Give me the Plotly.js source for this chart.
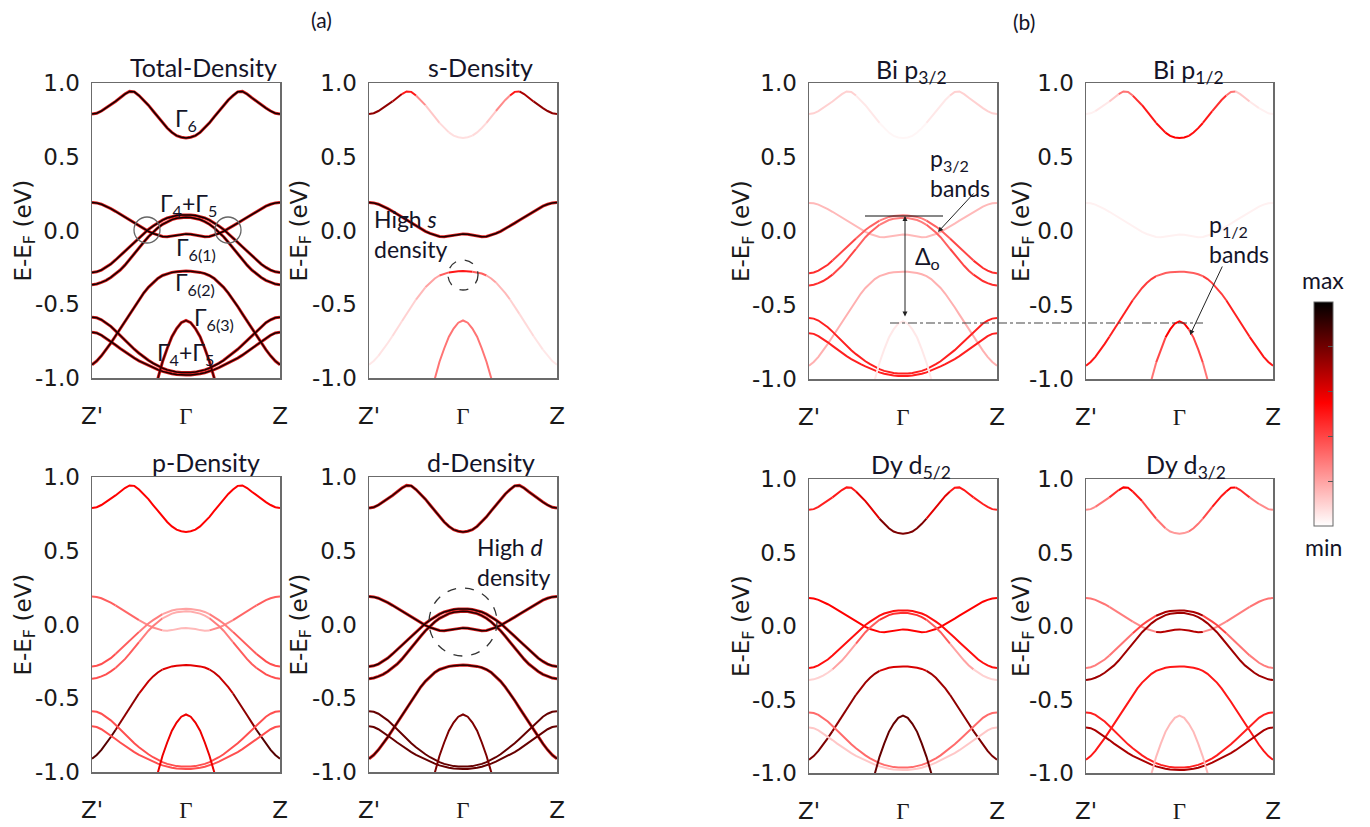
<!DOCTYPE html>
<html><head><meta charset="utf-8">
<script src="https://cdn.plot.ly/plotly-3.0.1.min.js"></script>
<style>html,body{margin:0;padding:0;background:#fff}#chart{width:1370px;height:827px}</style>
</head><body><div id="chart"></div>
<script>
// ---------- data ----------
const kGrid = [-1,-0.95,-0.9,-0.85,-0.8,-0.75,-0.7,-0.65,-0.6,-0.55,-0.5,-0.45,-0.4,-0.35,-0.3,-0.25,-0.2,-0.15,-0.1,-0.05,0,
  0.05,0.1,0.15,0.2,0.25,0.3,0.35,0.4,0.45,0.5,0.55,0.6,0.65,0.7,0.75,0.8,0.85,0.9,0.95,1];
const kTicks = [-1, 0, 1];
const kLabels = ["Z'", '<span style="font-family:Liberation Serif">Γ</span>', 'Z'];
const eTicks = [-1, -0.5, 0, 0.5, 1];
const eLabels = ['-1.0', '-0.5', '0.0', '0.5', '1.0'];

// band energies (eV) along Z' - Γ - Z
const bandA  = [0.79,0.795,0.81,0.83,0.85,0.875,0.9,0.925,0.943,0.94,0.915,0.885,0.85,0.81,0.77,0.73,0.695,0.665,0.643,0.632,0.628,0.632,0.643,0.665,0.695,0.73,0.77,0.81,0.85,0.885,0.915,0.94,0.943,0.925,0.9,0.875,0.85,0.83,0.81,0.795,0.79];
const bandC1 = [0.19,0.187,0.178,0.165,0.148,0.13,0.11,0.09,0.07,0.05,0.03,0.011,-0.006,-0.02,-0.032,-0.04,-0.042,-0.038,-0.031,-0.025,-0.023,-0.025,-0.031,-0.038,-0.042,-0.04,-0.032,-0.02,-0.006,0.011,0.03,0.05,0.07,0.09,0.11,0.13,0.148,0.165,0.178,0.187,0.19];
const bandD1 = [-0.285,-0.28,-0.268,-0.25,-0.228,-0.2,-0.17,-0.14,-0.11,-0.08,-0.05,-0.02,0.007,0.03,0.052,0.07,0.085,0.095,0.102,0.105,0.106,0.105,0.102,0.095,0.085,0.07,0.052,0.03,0.007,-0.02,-0.05,-0.08,-0.11,-0.14,-0.17,-0.2,-0.228,-0.25,-0.268,-0.28,-0.285];
const bandD2 = [-0.368,-0.363,-0.352,-0.338,-0.318,-0.295,-0.268,-0.235,-0.198,-0.16,-0.12,-0.08,-0.042,-0.01,0.018,0.042,0.06,0.074,0.083,0.088,0.09,0.088,0.083,0.074,0.06,0.042,0.018,-0.01,-0.042,-0.08,-0.12,-0.16,-0.198,-0.235,-0.268,-0.295,-0.318,-0.338,-0.352,-0.363,-0.368];
const bandE  = [-0.91,-0.885,-0.85,-0.808,-0.763,-0.715,-0.665,-0.615,-0.565,-0.515,-0.468,-0.424,-0.385,-0.352,-0.325,-0.305,-0.292,-0.284,-0.279,-0.276,-0.275,-0.276,-0.279,-0.284,-0.292,-0.305,-0.325,-0.352,-0.385,-0.424,-0.468,-0.515,-0.565,-0.615,-0.665,-0.715,-0.763,-0.808,-0.85,-0.885,-0.91];
const bandF1 = [-0.588,-0.592,-0.605,-0.625,-0.65,-0.68,-0.712,-0.745,-0.776,-0.805,-0.832,-0.857,-0.88,-0.9,-0.918,-0.933,-0.945,-0.954,-0.96,-0.963,-0.964,-0.963,-0.96,-0.954,-0.945,-0.933,-0.918,-0.9,-0.88,-0.857,-0.832,-0.805,-0.776,-0.745,-0.712,-0.68,-0.65,-0.625,-0.605,-0.592,-0.588];
const bandF2 = [-0.69,-0.695,-0.71,-0.73,-0.752,-0.776,-0.8,-0.823,-0.845,-0.865,-0.884,-0.9,-0.915,-0.93,-0.943,-0.955,-0.964,-0.971,-0.976,-0.979,-0.98,-0.979,-0.976,-0.971,-0.964,-0.955,-0.943,-0.93,-0.915,-0.9,-0.884,-0.865,-0.845,-0.823,-0.8,-0.776,-0.752,-0.73,-0.71,-0.695,-0.69];
const kG     = [-0.35,-0.3,-0.25,-0.2,-0.15,-0.1,-0.05,0,0.05,0.1,0.15,0.2,0.25,0.3,0.35];
const bandG  = [-1.12,-1.0,-0.89,-0.8,-0.72,-0.665,-0.625,-0.61,-0.625,-0.665,-0.72,-0.8,-0.89,-1.0,-1.12];

// projected weights (0 = min, 1 = max), band order: A, C1, D1, D2, E, F1, F2, G
// a number = constant along k; an array = equal-width k regions from Z' to Z
const wTotal = [0.97, 0.97, 0.97, 0.97, 0.94, 0.95, 0.95, 0.88];
const wS = [[0.75,0.75,0.7,0.5,0.25,0.12,0.08,0.07,0.07,0.08,0.12,0.25,0.5,0.7,0.75,0.75],
  0.95, 0, 0,
  [0.05,0.06,0.08,0.1,0.15,0.2,0.35,0.5,0.5,0.35,0.2,0.15,0.1,0.08,0.06,0.05],
  0, 0, 0.3];
const wP = [0.55, [0.35,0.33,0.25,0.15,0.15,0.25,0.33,0.35], [0.38,0.35,0.28,0.2,0.2,0.28,0.35,0.38],
  [0.38,0.35,0.28,0.18,0.18,0.28,0.35,0.38], [0.85,0.75,0.65,0.6,0.6,0.65,0.75,0.85], 0.38, 0.38, 0.58];
const wD = [0.93, 0.95, 0.95, 0.93, 0.92, 0.82, 0.82, 0.78];
const wBi32 = [[0.1,0.1,0.05,0.02,0.02,0.05,0.1,0.1], 0.15, [0.45,0.4,0.34,0.28,0.28,0.34,0.4,0.45],
  [0.45,0.4,0.34,0.28,0.28,0.34,0.4,0.45], 0.17, 0.48, 0.48, 0.05];
const wBi12 = [[0.03,0.05,0.12,0.3,0.45,0.5,0.52,0.55,0.55,0.52,0.5,0.45,0.3,0.12,0.05,0.03],
  0.03, 0, 0, [0.5,0.48,0.42,0.35,0.35,0.42,0.48,0.5], 0, 0,
  [0,0,0,0,0,0.3,0.4,0.55,0.55,0.4,0.3,0,0,0,0,0]];
const wDy52 = [[0.48,0.5,0.6,0.78,0.78,0.6,0.5,0.48], 0.55, 0.52, [0.1,0.2,0.35,0.45,0.45,0.35,0.2,0.1],
  [0.78,0.75,0.72,0.62,0.62,0.72,0.75,0.78], 0.32, 0.12, 0.82];
const wDy32 = [[0.25,0.3,0.45,0.55,0.5,0.4,0.3,0.22,0.22,0.3,0.4,0.5,0.55,0.45,0.3,0.25],
  [0.3,0.28,0.25,0.68,0.68,0.25,0.28,0.3], [0.28,0.3,0.4,0.7,0.7,0.4,0.3,0.28], 0.72, 0.5, 0.48, 0.7, 0.15];

const panelTitles = ['Total-Density','s-Density','p-Density','d-Density',
  'Bi p<sub>3/2</sub>','Bi p<sub>1/2</sub>','Dy d<sub>5/2</sub>','Dy d<sub>3/2</sub>'];

// ---------- construction ----------
const W = 1370, H = 827;
const px = x => x / W, py = y => 1 - y / H;
const bands = [[kGrid,bandA],[kGrid,bandC1],[kGrid,bandD1],[kGrid,bandD2],[kGrid,bandE],[kGrid,bandF1],[kGrid,bandF2],[kG,bandG]];
const weights = [wTotal, wS, wP, wD, wBi32, wBi12, wDy52, wDy32];
// panel boxes in pixels [left,right,top,bottom]
const boxes = [[92,280,83,378],[369,557,83,378],[92,280,477,772],[369,557,477,772],
  [809,997,83,379],[1086,1273,83,379],[809,997,479,773],[1086,1273,479,773]];

const cstops = [[0,[255,255,255]],[0.55,[255,0,0]],[1,[0,0,0]]];
function col(w){
  for (let i=0;i<cstops.length-1;i++){
    const [a,ca]=cstops[i],[b,cb]=cstops[i+1];
    if (w<=b){ const t=(w-a)/(b-a); return 'rgb('+ca.map((c,j)=>Math.round(c+(cb[j]-c)*t)).join(',')+')'; }
  }
  return 'rgb(0,0,0)';
}
function wAt(spec,k){
  if (typeof spec==='number') return spec;
  const n=spec.length; let r=Math.floor((k+1)/(2/n)); r=Math.max(0,Math.min(n-1,r)); return spec[r];
}

const traces = [];
const layout = {width:W,height:H,margin:{l:0,r:0,t:0,b:0},paper_bgcolor:'#fff',plot_bgcolor:'#fff',
  showlegend:false,annotations:[],shapes:[]};
const tickFont = {family:'DejaVu Sans',size:23,color:'#1a1a1a'};

weights.forEach((wp,pi)=>{
  const n = pi+1, xa = 'x'+(n>1?n:''), ya = 'y'+(n>1?n:'');
  const [l,r,t,b] = boxes[pi];
  layout['xaxis'+(n>1?n:'')] = {domain:[px(l),px(r)],anchor:ya,range:[-1,1],tickvals:kTicks,ticktext:kLabels,
    showline:true,mirror:true,linecolor:'#6b6b6b',linewidth:1.5,showgrid:false,zeroline:false,ticks:'',
    tickfont:tickFont,ticklabelstandoff:17,fixedrange:true};
  layout['yaxis'+(n>1?n:'')] = {domain:[py(b),py(t)],anchor:xa,range:[-1,1],tickvals:eTicks,ticktext:eLabels,
    showline:true,mirror:true,linecolor:'#6b6b6b',linewidth:1.5,showgrid:false,zeroline:false,ticks:'',
    tickfont:tickFont,ticklabelstandoff:6,fixedrange:true};
  const halos=[], cores=[];
  bands.forEach(([ks,es],bi)=>{
    const spec = wp[bi];
    let start=0;
    for (let i=0;i<ks.length-1;i++){
      const w = wAt(spec,(ks[i]+ks[i+1])/2);
      const wn = i+1<ks.length-1 ? wAt(spec,(ks[i+1]+ks[i+2])/2) : null;
      if (wn!==w){
        if (w>0.015){
          const xs=ks.slice(start,i+2), ys=es.slice(start,i+2);
          const halo = w>=0.86;
          if (halo) halos.push({x:xs,y:ys,xaxis:xa,yaxis:ya,mode:'lines',hoverinfo:'skip',
            line:{color:'rgb(220,30,30)',width:3.0}});
          cores.push({x:xs,y:ys,xaxis:xa,yaxis:ya,mode:'lines',hoverinfo:'skip',
            line:{color:col(w),width:halo?1.5:2}});
        }
        start=i+1;
      }
    }
  });
  traces.push(...halos,...cores);
});

// colour bar
traces.push({x:[null],y:[null],xaxis:'x',yaxis:'y',mode:'markers',hoverinfo:'skip',
  marker:{color:[0],cmin:0,cmax:1,colorscale:[[0,'rgb(255,255,255)'],[0.55,'rgb(255,0,0)'],[1,'rgb(0,0,0)']],
  showscale:true,colorbar:{x:px(1314),xanchor:'left',y:py(414),yanchor:'middle',len:224/H,lenmode:'fraction',
  thickness:19,thicknessmode:'pixels',xpad:0,ypad:0,outlinewidth:1,outlinecolor:'#666',
  tickvals:[0.2,0.4,0.6,0.8],ticks:'inside',ticklen:5,tickcolor:'#555',showticklabels:false}}});

// ---------- annotations ----------
const A = layout.annotations, S = layout.shapes;
const tfont = {family:'Lato',size:25,color:'#141428'};
const lfont = {family:'Lato',size:23,color:'#141428'};
function ann(text,x,y,o){ A.push(Object.assign({text,x:px(x),y:py(y),xref:'paper',yref:'paper',showarrow:false,
  xanchor:'center',yanchor:'middle',font:tfont},o||{})); }
const titlePos = [[203,67],[480,67],[206,462],[481,462],[911,71],[1188,71],[911,466],[1186,466]];
panelTitles.forEach((t,i)=>ann(t,titlePos[i][0],titlePos[i][1]));
const yTitleX = [24,300,24,300,743,1023,743,1023];
boxes.forEach((bx,i)=>ann('E-E<sub>F</sub> (eV)',yTitleX[i],(bx[2]+bx[3])/2,{textangle:-90,font:{family:'DejaVu Sans',size:23,color:'#1a1a1a'}}));
ann('(a)',321,20,{font:{family:'Lato',size:21,color:'#141428'}});
ann('(b)',1024,22,{font:{family:'Lato',size:21,color:'#141428'}});
ann('max',1323,280,{font:lfont});
ann('min',1323,547,{font:lfont});
// symmetry labels in Total-Density
ann('Γ<sub>6</sub>',186,120,{font:lfont});
ann('Γ<sub>4</sub>+Γ<sub>5</sub>',188,205,{font:lfont});
ann('Γ<sub>6(1)</sub>',196,248,{font:lfont});
ann('Γ<sub>6(2)</sub>',195,284,{font:lfont});
ann('Γ<sub>6(3)</sub>',214,318,{font:lfont});
ann('Γ<sub>4</sub>+Γ<sub>5</sub>',185,354,{font:lfont});
ann('High <i>s</i><br>density',372,203,{xanchor:'left',yanchor:'top',align:'left',font:lfont});
ann('High <i>d</i><br>density',475,531,{xanchor:'left',yanchor:'top',align:'left',font:lfont});
ann('p<sub>3/2</sub><br>bands',928,142,{xanchor:'left',yanchor:'top',align:'left',font:lfont});
ann('p<sub>1/2</sub><br>bands',1207,208,{xanchor:'left',yanchor:'top',align:'left',font:lfont});
ann('Δ<sub>o</sub>',927,258,{font:lfont});
// arrows
function arrow(hx,hy,tx,ty,both){ A.push({text:'',x:px(hx),y:py(hy),xref:'paper',yref:'paper',showarrow:true,
  ax:tx-hx,ay:ty-hy,axref:'pixel',ayref:'pixel',arrowhead:2,startarrowhead:2,arrowside:both?'end+start':'end',
  arrowsize:1,arrowwidth:1,arrowcolor:'#222',standoff:0,startstandoff:0}); }
arrow(938,232,975,192,false);
arrow(1190,335,1223,265,false);
arrow(905,216,905,318,true);
// shapes
function circle(cx,cy,r,dash,color){ S.push({type:'circle',xref:'paper',yref:'paper',x0:px(cx-r),x1:px(cx+r),
  y0:py(cy+r),y1:py(cy-r),line:{color,width:1.3,dash}}); }
circle(147,230,13,'solid','#666');
circle(228,230,13,'solid','#666');
circle(463,275,15,'dash','#333');
circle(463,622,34,'dash','#333');
S.push({type:'line',xref:'paper',yref:'paper',x0:px(865),x1:px(943),y0:py(216),y1:py(216),line:{color:'#111',width:1.2}});
S.push({type:'line',xref:'paper',yref:'paper',x0:px(890),x1:px(1203),y0:py(323),y1:py(323),line:{color:'#444',width:1.2,dash:'dashdot'}});

Plotly.newPlot('chart',traces,layout,{staticPlot:true,displayModeBar:false});
</script></body></html>
